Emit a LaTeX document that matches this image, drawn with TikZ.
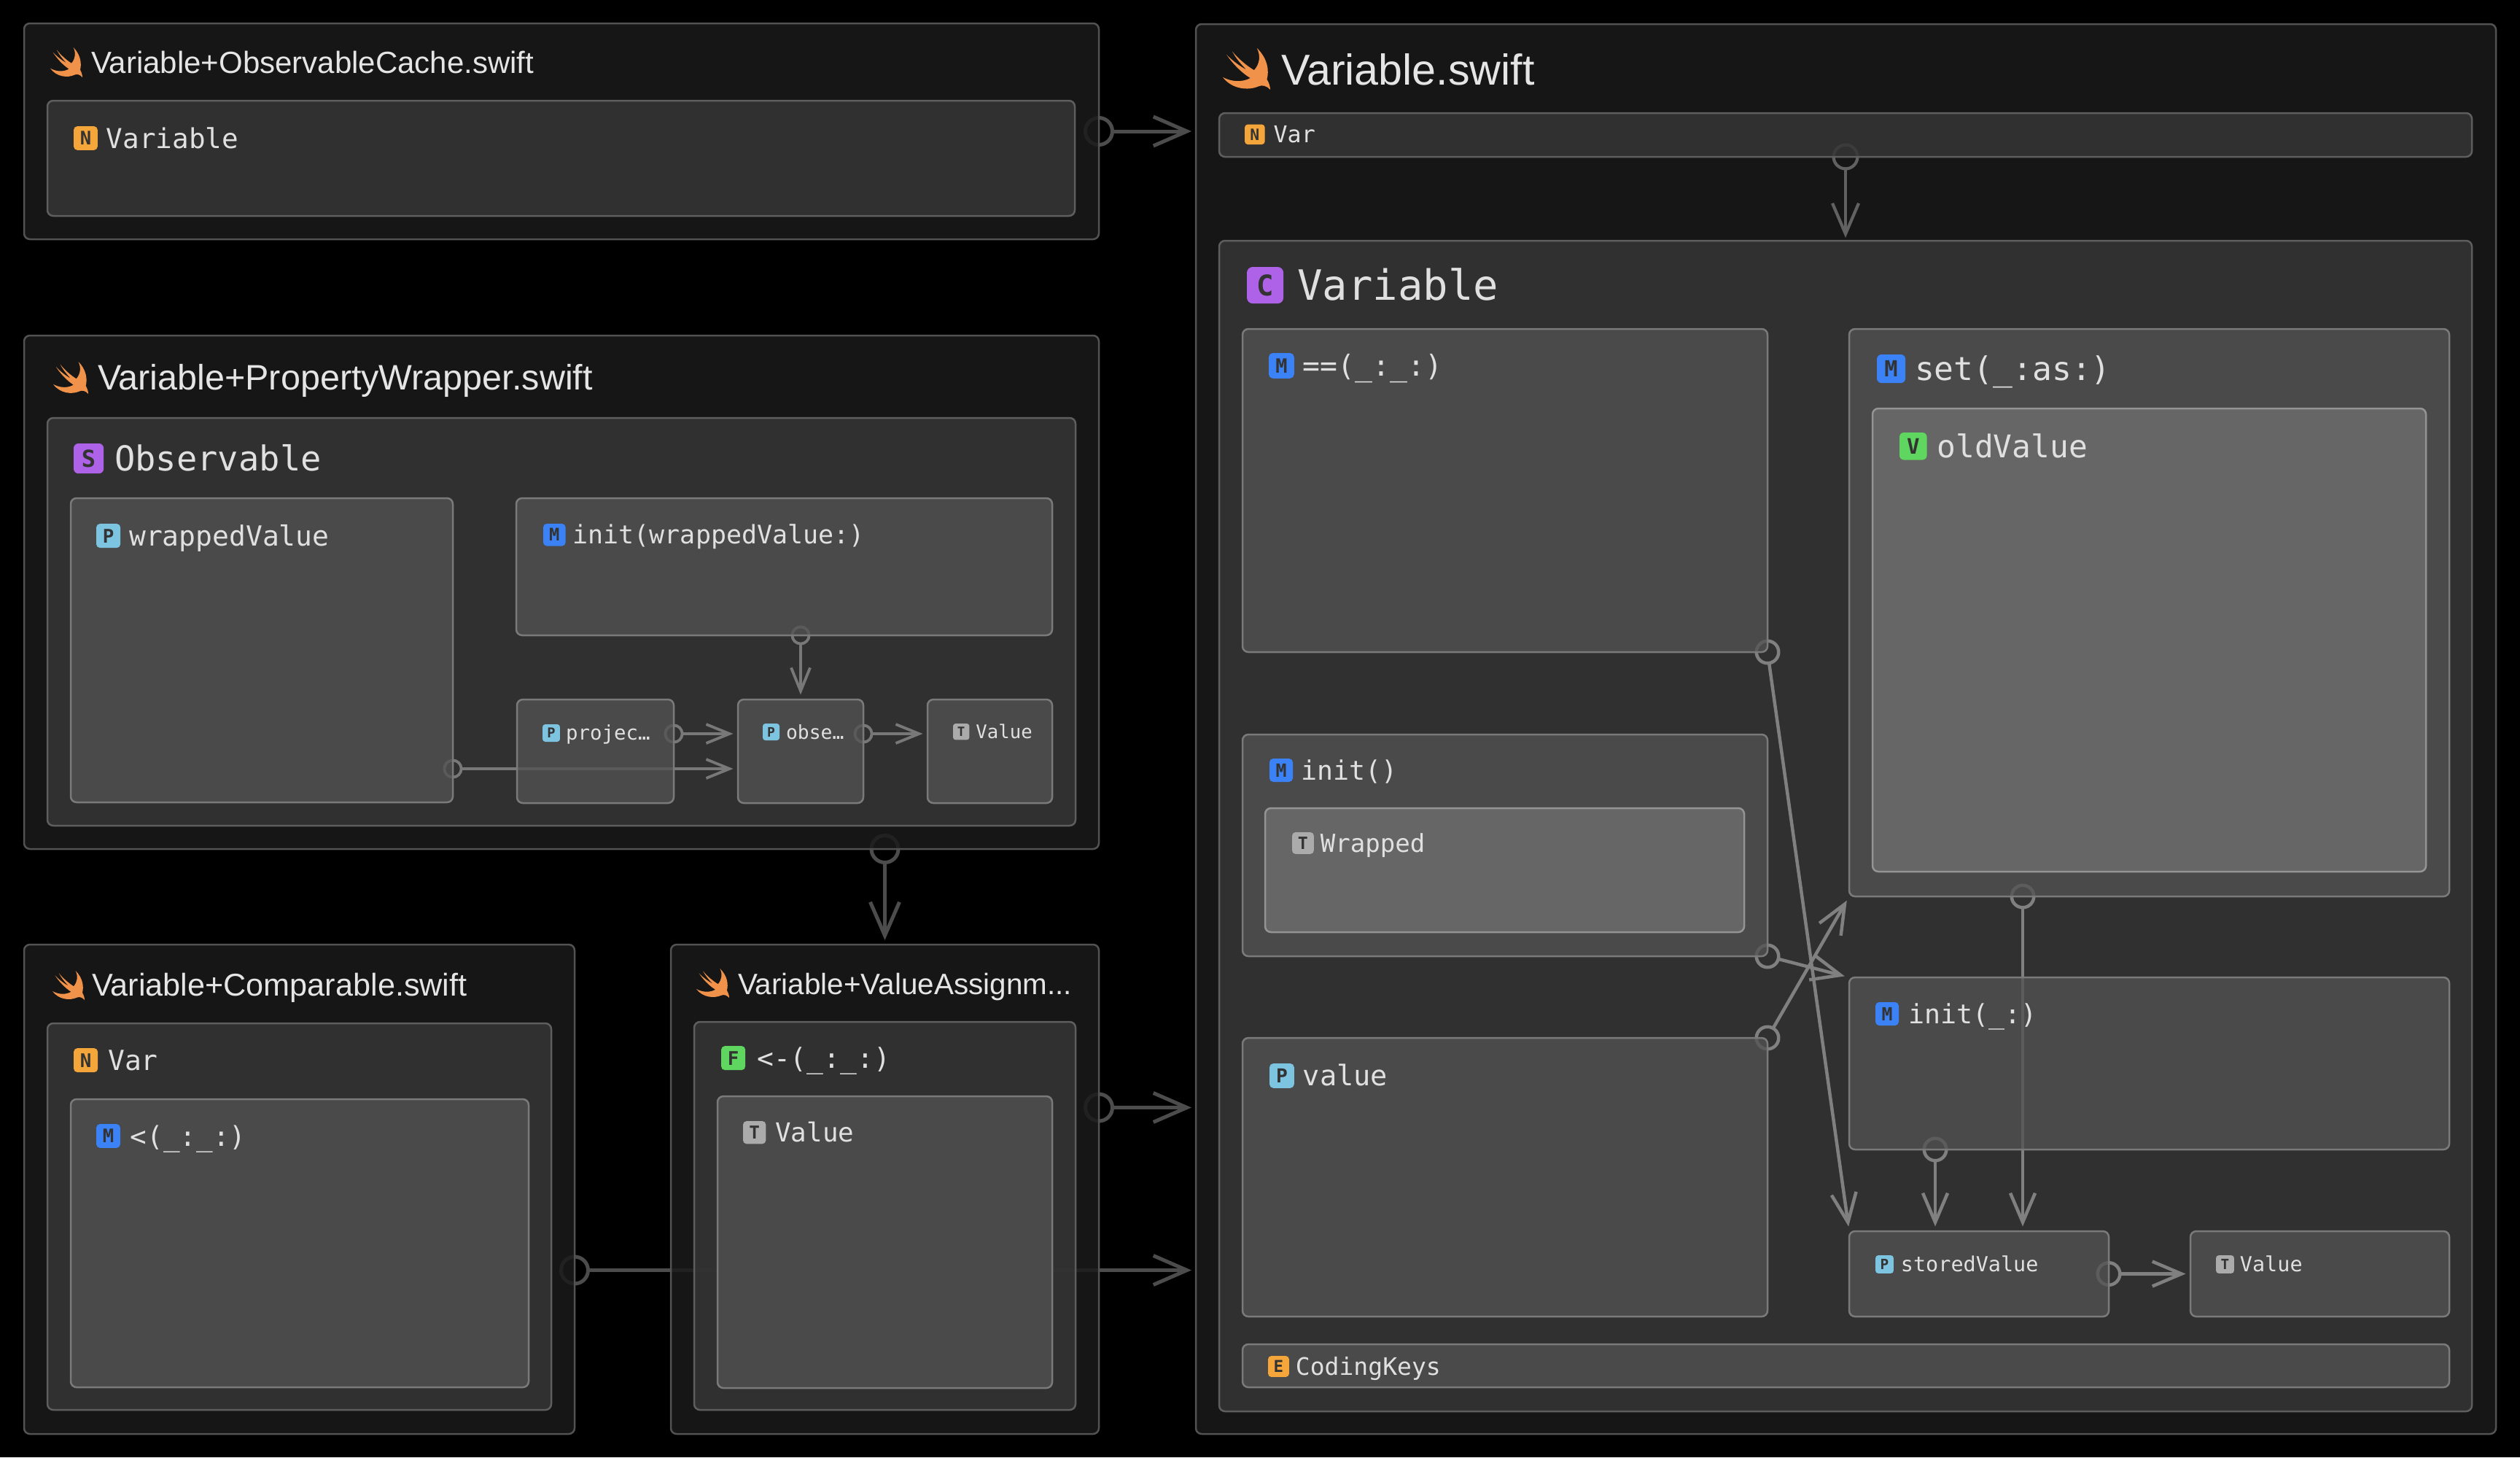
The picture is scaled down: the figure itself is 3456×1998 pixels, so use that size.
\documentclass[tikz,border=0pt]{standalone}
\usepackage{fontspec}
\usepackage{xcolor}
\setmainfont{Liberation Sans}
\newfontfamily\codefont{DejaVu Sans Mono}
\usetikzlibrary{arrows.meta, positioning, calc}

\definecolor{filefill}{HTML}{1A1A1A}
\definecolor{blockfill}{HTML}{353535}
\definecolor{itemfill}{HTML}{525252}
\definecolor{leaffill}{HTML}{666666}
\definecolor{swiftorange}{HTML}{F0924A}
\definecolor{tagnote}{HTML}{F5A63A}
\definecolor{tagprop}{HTML}{7DC4E0}
\definecolor{tagmeth}{HTML}{3B82F6}
\definecolor{tagtype}{HTML}{AE62E8}
\definecolor{tagvar}{HTML}{5FD65F}
\definecolor{tagparam}{HTML}{ABABAB}

\pgfdeclarelayer{linezero}
\pgfdeclarelayer{fileframe}
\pgfdeclarelayer{lineone}
\pgfdeclarelayer{blockframe}
\pgfdeclarelayer{linetwo}
\pgfsetlayers{linezero,fileframe,lineone,blockframe,linetwo,main}

\begin{document}
\begin{tikzpicture}[
  x=0.1mm, y=-0.1mm,
  frame/.style={rectangle, anchor=north west, inner sep=0pt, outer sep=0pt,
                line width=0.25mm, rounded corners=0.8mm},
  filebox/.style={frame, draw=black!68, fill=filefill, fill opacity=0.85},
  blockbox/.style={frame, draw=black!63, fill=blockfill, fill opacity=0.85},
  itembox/.style={frame, draw=black!52, fill=itemfill, fill opacity=0.77},
  leafbox/.style={frame, draw=black!42, fill=leaffill},
  tag/.style 2 args={rectangle, fill=#1, text=black!80, inner sep=0pt, outer sep=0pt,
                     minimum size=#2*0.875pt, rounded corners=#2*0.14pt,
                     font=\codefont\bfseries\fontsize{\the\dimexpr#2pt*68/100\relax}{#2}\selectfont},
  code/.style={font=\codefont\fontsize{#1}{#1}\selectfont, text=black!12, inner sep=0pt,
               outer sep=0pt, text height=#1*0.72pt, text depth=0pt},
  heading/.style={font=\fontsize{#1}{#1}\selectfont, text=black!10, inner sep=0pt, outer sep=0pt,
                  anchor=west, text height=#1*0.72pt, text depth=0pt},
  linebig/.style={draw=black!70, line width=0.5mm, shorten >=0.6mm, shorten <=-2.1mm,
                  {Circle[open,length=4.2mm,width=4.2mm]}-{Straight Barb[length=4.6mm,width=4mm]}},
  linevar/.style={draw=black!62, line width=0.42mm, shorten >=0.4mm, shorten <=-1.85mm,
                  {Circle[open,length=3.7mm,width=3.7mm]}-{Straight Barb[length=4.2mm,width=3.6mm]}},
  linemid/.style={draw=black!50, line width=0.45mm, shorten >=0.65mm, shorten <=-1.75mm,
                  {Circle[open,length=3.5mm,width=3.5mm]}-{Straight Barb[length=4mm,width=3.4mm]}},
  linesmall/.style={draw=black!53, line width=0.38mm, shorten >=0.65mm, shorten <=-1.35mm,
                  {Circle[open,length=2.7mm,width=2.7mm]}-{Straight Barb[length=3.2mm,width=2.6mm]}},
  swiftbird/.pic={
    \fill[swiftorange] (0.72,0) .. controls (0.95,0.25) and (0.98,0.55) .. (0.93,0.75)
      .. controls (0.97,0.82) and (1,0.92) .. (1,1)
      .. controls (0.92,0.9) and (0.83,0.88) .. (0.75,0.92)
      .. controls (0.55,1.02) and (0.2,1) .. (0,0.7)
      .. controls (0.2,0.82) and (0.42,0.82) .. (0.58,0.72)
      .. controls (0.38,0.58) and (0.2,0.36) .. (0.08,0.16)
      .. controls (0.22,0.32) and (0.38,0.45) .. (0.5,0.52)
      .. controls (0.38,0.38) and (0.28,0.25) .. (0.2,0.08)
      .. controls (0.32,0.25) and (0.5,0.42) .. (0.66,0.53)
      .. controls (0.78,0.38) and (0.8,0.18) .. (0.72,0) -- cycle;
  }
]
  \useasboundingbox (0,0) rectangle (3456,1998);

  % files
  \begin{pgfonlayer}{fileframe}
    \node[filebox, minimum width=147.4mm, minimum height=29.6mm] (cachefile) at (33,32) {};
    \node[filebox, minimum width=147.4mm, minimum height=70.4mm] (wrapperfile) at (33,460) {};
    \node[filebox, minimum width=75.5mm, minimum height=67.1mm] (comparefile) at (33,1295) {};
    \node[filebox, minimum width=58.7mm, minimum height=67.1mm] (assignfile) at (920,1295) {};
    \node[filebox, minimum width=178.3mm, minimum height=193.3mm] (varfile) at (1640,33) {};
  \end{pgfonlayer}

  % blocks inside the files
  \begin{pgfonlayer}{blockframe}
    \node[blockbox, minimum width=140.9mm, minimum height=15.8mm] (cachens) at (65,138) {};
    \node[blockbox, minimum width=141mm, minimum height=55.9mm] (observable) at (65,573) {};
    \node[blockbox, minimum width=69.1mm, minimum height=53mm] (varns) at (65,1403) {};
    \node[blockbox, minimum width=52.3mm, minimum height=53.2mm] (assignfunc) at (952,1401) {};
    \node[blockbox, minimum width=171.8mm, minimum height=6mm] (topvar) at (1672,155) {};
    \node[blockbox, minimum width=171.8mm, minimum height=160.5mm] (variable) at (1672,330) {};
  \end{pgfonlayer}

  % members
  \node[itembox, minimum width=52.4mm, minimum height=41.7mm] (wrapped) at (97,683) {};
  \node[itembox, minimum width=73.5mm, minimum height=18.8mm] (initwrapped) at (708,683) {};
  \node[itembox, minimum width=21.5mm, minimum height=14.2mm] (projected) at (709,959) {};
  \node[itembox, minimum width=17.2mm, minimum height=14.2mm] (observed) at (1012,959) {};
  \node[itembox, minimum width=17.1mm, minimum height=14.2mm] (obsvalue) at (1272,959) {};
  \node[itembox, minimum width=62.8mm, minimum height=39.5mm] (lessthan) at (97,1507) {};
  \node[itembox, minimum width=45.9mm, minimum height=40mm] (assignvalue) at (984,1503) {};
  \node[itembox, minimum width=72mm, minimum height=44.3mm] (equals) at (1704,451) {};
  \node[itembox, minimum width=82.3mm, minimum height=77.8mm] (setas) at (2536,451) {};
  \node[itembox, minimum width=72mm, minimum height=30.4mm] (initempty) at (1704,1007) {};
  \node[itembox, minimum width=72mm, minimum height=38.2mm] (varvalue) at (1704,1423) {};
  \node[itembox, minimum width=82.3mm, minimum height=23.6mm] (initarg) at (2536,1340) {};
  \node[itembox, minimum width=35.6mm, minimum height=11.7mm] (stored) at (2536,1688) {};
  \node[itembox, minimum width=35.5mm, minimum height=11.7mm] (storedtype) at (3004,1688) {};
  \node[itembox, minimum width=165.5mm, minimum height=5.9mm] (codingkeys) at (1704,1843) {};
  \node[leafbox, minimum width=75.9mm, minimum height=63.5mm] (oldvalue) at (2568,560) {};
  \node[leafbox, minimum width=65.7mm, minimum height=17mm] (wrappedtype) at (1735,1108) {};

  % file titles
  \pic[xscale=44, yscale=41] (birdcache) at (69,65) {swiftbird};
  \node[heading=11.95] (cachetitle) at (125,85) {Variable+ObservableCache.swift};
  \pic[xscale=48, yscale=44] (birdwrapper) at (73,496) {swiftbird};
  \node[heading=13.8] (wrappertitle) at (134,517) {Variable+PropertyWrapper.swift};
  \pic[xscale=44, yscale=40] (birdcompare) at (72,1331) {swiftbird};
  \node[heading=12.3] (comparetitle) at (126,1350) {Variable+Comparable.swift};
  \pic[xscale=45, yscale=40] (birdassign) at (955,1328) {swiftbird};
  \node[heading=11.5] (assigntitle) at (1012,1349) {Variable+ValueAssignm...};
  \pic[xscale=65, yscale=57] (birdvar) at (1677,66) {swiftbird};
  \node[heading=16.85] (vartitle) at (1757,95) {Variable.swift};

  % tags and names
  \node[tag={tagnote}{10.7}, below right=3.5mm and 3.6mm of cachens.north west] (cachenstag) {N};
  \node[code=10.7, right=1.2mm of cachenstag] (cachensname) {Variable};
  \node[tag={tagtype}{13.4}, below right=3.5mm and 3.6mm of observable.north west] (observabletag) {S};
  \node[code=13.4, right=1.5mm of observabletag] (observablename) {Observable};
  \node[tag={tagprop}{10.8}, below right=3.5mm and 3.5mm of wrapped.north west] (wrappedtag) {P};
  \node[code=10.8, right=1.2mm of wrappedtag] (wrappedname) {wrappedValue};
  \node[tag={tagmeth}{9.95}, below right=3.5mm and 3.7mm of initwrapped.north west] (initwrappedtag) {M};
  \node[code=9.95, right=1mm of initwrappedtag] (initwrappedname) {init(wrappedValue:)};
  \node[tag={tagprop}{7.8}, below right=3.4mm and 3.5mm of projected.north west] (projectedtag) {P};
  \node[code=7.8, right=0.8mm of projectedtag] (projectedname) {projec…};
  \node[tag={tagprop}{7.5}, below right=3.3mm and 3.4mm of observed.north west] (observedtag) {P};
  \node[code=7.5, right=0.9mm of observedtag] (observedname) {obse…};
  \node[tag={tagparam}{7.3}, below right=3.3mm and 3.5mm of obsvalue.north west] (obsvaluetag) {T};
  \node[code=7.3, right=0.9mm of obsvaluetag] (obsvaluename) {Value};
  \node[tag={tagnote}{10.8}, below right=3.4mm and 3.6mm of varns.north west] (varnstag) {N};
  \node[code=10.8, right=1.4mm of varnstag] (varnsname) {Var};
  \node[tag={tagmeth}{10.7}, below right=3.4mm and 3.5mm of lessthan.north west] (lessthantag) {M};
  \node[code=10.7, right=1.4mm of lessthantag] (lessthanname) {<(\_:\_:)};
  \node[tag={tagvar}{10.8}, below right=3.3mm and 3.7mm of assignfunc.north west] (assignfunctag) {F};
  \node[code=10.8, right=1.6mm of assignfunctag] (assignfuncname) {<-(\_:\_:)};
  \node[tag={tagparam}{10.2}, below right=3.4mm and 3.5mm of assignvalue.north west] (assignvaluetag) {T};
  \node[code=10.2, right=1.3mm of assignvaluetag] (assignvaluename) {Value};
  \node[tag={tagnote}{9}, below right=1.55mm and 3.5mm of topvar.north west] (topvartag) {N};
  \node[code=9, right=1.2mm of topvartag] (topvarname) {Var};
  \node[tag={tagtype}{16.3}, below right=3.6mm and 3.8mm of variable.north west] (variabletag) {C};
  \node[code=16.3, right=1.9mm of variabletag] (variablename) {Variable};
  \node[tag={tagmeth}{11.3}, below right=3.3mm and 3.6mm of equals.north west] (equalstag) {M};
  \node[code=11.3, right=1.2mm of equalstag] (equalsname) {==(\_:\_:)};
  \node[tag={tagmeth}{12.7}, below right=3.5mm and 3.8mm of setas.north west] (setastag) {M};
  \node[code=12.7, right=1.3mm of setastag] (setasname) {set(\_:as:)};
  \node[tag={tagvar}{12.2}, below right=3.3mm and 3.7mm of oldvalue.north west] (oldvaluetag) {V};
  \node[code=12.2, right=1.4mm of oldvaluetag] (oldvaluename) {oldValue};
  \node[tag={tagmeth}{10.4}, below right=3.3mm and 3.7mm of initempty.north west] (initemptytag) {M};
  \node[code=10.4, right=1.1mm of initemptytag] (initemptyname) {init()};
  \node[tag={tagparam}{9.7}, below right=3.3mm and 3.7mm of wrappedtype.north west] (wrappedtypetag) {T};
  \node[code=9.7, right=0.9mm of wrappedtypetag] (wrappedtypename) {Wrapped};
  \node[tag={tagprop}{11}, below right=3.5mm and 3.7mm of varvalue.north west] (varvaluetag) {P};
  \node[code=11, right=1.2mm of varvaluetag] (varvaluename) {value};
  \node[tag={tagmeth}{10.4}, below right=3.4mm and 3.6mm of initarg.north west] (initargtag) {M};
  \node[code=10.4, right=1.3mm of initargtag] (initargname) {init(\_:)};
  \node[tag={tagprop}{8.1}, below right=3.3mm and 3.6mm of stored.north west] (storedtag) {P};
  \node[code=8.1, right=1mm of storedtag] (storedname) {storedValue};
  \node[tag={tagparam}{8.1}, below right=3.3mm and 3.5mm of storedtype.north west] (storedtypetag) {T};
  \node[code=8.1, right=0.8mm of storedtypetag] (storedtypename) {Value};
  \node[tag={tagnote}{9.4}, below right=1.6mm and 3.5mm of codingkeys.north west] (codingkeystag) {E};
  \node[code=9.4, right=0.9mm of codingkeystag] (codingkeysname) {CodingKeys};

  % links between files
  \begin{pgfonlayer}{linezero}
    \fill[black] (0,0) rectangle (3456,1998);
    \draw[linebig] (cachefile.east) -- (cachefile.east -| varfile.west);
    \draw[linebig] (wrapperfile.south -| assignfile.north) -- (assignfile.north);
    \draw[linebig] ($(assignfile.east)+(0,-112)$) -- ($(assignfile.east -| varfile.west)+(0,-112)$);
    \draw[linebig] ($(comparefile.east)+(0,111)$) -- ($(comparefile.east -| varfile.west)+(0,111)$);
  \end{pgfonlayer}

  \begin{pgfonlayer}{lineone}
    \draw[linevar] (topvar.south) -- (variable.north);
  \end{pgfonlayer}

  % links between members
  \coordinate (storedleft) at ([xshift=-6mm]stored.north);
  \coordinate (storedright) at ([xshift=6mm]stored.north);
  \begin{pgfonlayer}{linetwo}
    \draw[linesmall] (initwrapped.south -| observed.north) -- (observed.north);
    \draw[linesmall] ($(projected.east)+(0,-24)$) -- ($(observed.west)+(0,-24)$);
    \draw[linesmall] ($(wrapped.east |- projected.east)+(0,24)$) -- ($(observed.west)+(0,24)$);
    \draw[linesmall] ($(observed.east)+(0,-24)$) -- ($(obsvalue.west)+(0,-24)$);
    \draw[linemid] (equals.south east) -- (stored.north west);
    \draw[linemid] (initempty.south east) -- (initarg.north west);
    \draw[linemid] (varvalue.north east) -- (setas.south west);
    \draw[linemid] (setas.south -| storedright) -- (storedright);
    \draw[linemid] (initarg.south -| storedleft) -- (storedleft);
    \draw[linemid] (stored.east) -- (storedtype.west);
  \end{pgfonlayer}
\end{tikzpicture}
\end{document}
